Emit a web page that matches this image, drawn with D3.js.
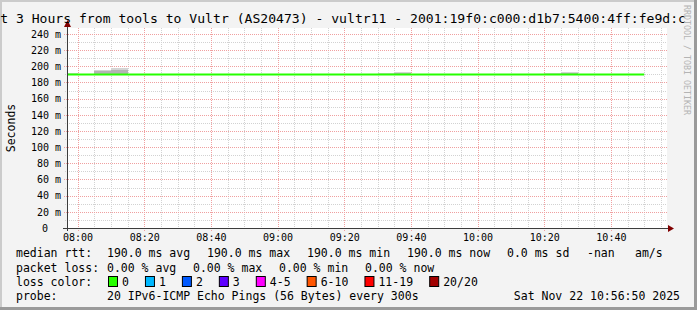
<!DOCTYPE html>
<html>
<head>
<meta charset="utf-8">
<script src="https://cdn.jsdelivr.net/npm/d3@7"></script>
<style>
  body { margin: 0; background: #f3f3f3; }
  svg { display: block; font-family: "DejaVu Sans Mono", monospace; }
</style>
</head>
<body>
<script>
// 5 minute bins, labelled by the end of the bin (rrdtool style)
const binEnds = ["08:00","08:05","08:10","08:15","08:20","08:25","08:30","08:35","08:40","08:45","08:50","08:55",
                 "09:00","09:05","09:10","09:15","09:20","09:25","09:30","09:35","09:40","09:45","09:50","09:55",
                 "10:00","10:05","10:10","10:15","10:20","10:25","10:30","10:35","10:40","10:45","10:50"];
const medianRtt = [190.0,190.0,190.0,190.0,190.0,190.0,190.0,190.0,190.0,190.0,190.0,190.0,
                   190.0,190.0,190.0,190.0,190.0,190.0,190.0,190.0,190.0,190.0,190.0,190.0,
                   190.0,190.0,190.0,190.0,190.0,190.0,190.0,190.0,190.0,190.0,190.0];
const maxRtt =    [192.1,190.6,195.5,197.6,190.6,190.6,190.5,190.6,190.6,190.5,190.6,190.6,
                   190.6,190.5,190.6,190.6,190.6,190.5,190.6,191.6,193.0,190.6,190.6,190.5,
                   190.6,190.6,190.5,190.6,190.6,191.7,193.2,190.6,190.5,190.6,190.6];
const upperRtt =  [190.8,190.3,193.9,195.9,190.3,190.3,190.3,190.3,190.3,190.3,190.3,190.3,
                   190.3,190.3,190.3,190.3,190.3,190.3,190.3,190.8,191.4,190.3,190.3,190.3,
                   190.3,190.3,190.3,190.3,190.3,190.8,191.4,190.3,190.3,190.3,190.3];
const minRtt =    [189.6,189.6,189.6,189.6,189.6,189.6,189.6,189.6,189.6,189.6,189.6,189.6,
                   189.6,189.6,189.6,189.6,189.6,189.6,189.6,189.6,189.6,189.6,189.6,189.6,
                   189.6,189.6,189.6,189.6,189.6,189.6,189.6,189.6,189.6,189.6,189.6];

const yTicks = [0,20,40,60,80,100,120,140,160,180,200,220,240];
const xTickLabels = ["08:00","08:20","08:40","09:00","09:20","09:40","10:00","10:20","10:40"];

const lossLabels = ["0","1","2","3","4-5","6-10","11-19","20/20"];
const lossColors = ["#26ff00","#00b8ff","#0059ff","#5e00ff","#ff00ff","#ff5500","#ff0000","#a10000"];

const title = "Last 3 Hours from tools to Vultr (AS20473) - vultr11 - 2001:19f0:c000:d1b7:5400:4ff:fe9d:c";
const rowRtt = [["median rtt:",16],["190.0 ms avg",107],["190.0 ms max",207],["190.0 ms min",307],
                ["190.0 ms now",407],["0.0 ms sd",507],["-nan",587],["am/s",635]];
const rowLoss = [["packet loss:",16],["0.00 % avg",107],["0.00 % max",193],["0.00 % min",279],["0.00 % now",365]];
const probeText = "20 IPv6-ICMP Echo Pings (56 Bytes) every 300s";
const stampText = "Sat Nov 22 10:56:50 2025";

const W = 697, H = 310;
const plot = { left: 67, right: 667, top: 28, bottom: 228 };

const parseT = d3.utcParse("%Y-%m-%d %H:%M:%S");
const t = s => parseT("2025-11-22 " + (s.length === 5 ? s + ":00" : s));
const tStart = t("07:56:50"), tEnd = t("10:56:50");

const x = d3.scaleUtc().domain([tStart, tEnd]).range([plot.left, plot.right]);
const y = d3.scaleLinear().domain([0, 247.4]).range([plot.bottom, plot.top]);

const svg = d3.select("body").append("svg").attr("width", W).attr("height", H);

// frame / shading
svg.append("rect").attr("width", W).attr("height", H).attr("fill", "#f3f3f3");
svg.append("rect").attr("x", 0).attr("y", 0).attr("width", W).attr("height", 2).attr("fill", "#cbcbcb");
svg.append("rect").attr("x", 0).attr("y", 0).attr("width", 2).attr("height", H).attr("fill", "#cbcbcb");
svg.append("rect").attr("x", W - 3).attr("y", 0).attr("width", 3).attr("height", H).attr("fill", "#9a9a9a");
svg.append("rect").attr("x", 0).attr("y", H - 3).attr("width", W).attr("height", 3).attr("fill", "#9a9a9a");

// canvas
svg.append("rect")
  .attr("x", plot.left).attr("y", plot.top)
  .attr("width", plot.right - plot.left).attr("height", plot.bottom - plot.top)
  .attr("fill", "#ffffff");

svg.append("clipPath").attr("id", "clip").append("rect")
  .attr("x", plot.left).attr("y", plot.top)
  .attr("width", plot.right - plot.left).attr("height", plot.bottom - plot.top);

// grid
const grid = svg.append("g").attr("shape-rendering", "crispEdges");
const minorT = d3.utcMinute.every(5).range(tStart, tEnd).filter(d => d.getUTCMinutes() % 20 !== 0);
const majorT = d3.utcMinute.every(20).range(tStart, tEnd);
const minorY = d3.range(10, 247, 20);

grid.selectAll(".vmin").data(minorT).join("line")
  .attr("x1", d => Math.round(x(d)) + 0.5).attr("x2", d => Math.round(x(d)) + 0.5)
  .attr("y1", plot.top).attr("y2", plot.bottom + 2)
  .attr("stroke", "#d2d2d2").attr("stroke-dasharray", "1,1");
grid.selectAll(".hmin").data(minorY).join("line")
  .attr("x1", plot.left - 2).attr("x2", plot.right)
  .attr("y1", d => Math.round(y(d)) + 0.5).attr("y2", d => Math.round(y(d)) + 0.5)
  .attr("stroke", "#d2d2d2").attr("stroke-dasharray", "1,1");
grid.selectAll(".vmaj").data(majorT).join("line")
  .attr("x1", d => Math.round(x(d)) + 0.5).attr("x2", d => Math.round(x(d)) + 0.5)
  .attr("y1", plot.top).attr("y2", plot.bottom + 3)
  .attr("stroke", "#f0a0a0").attr("stroke-dasharray", "1,1");
grid.selectAll(".hmaj").data(yTicks.filter(v => v > 0)).join("line")
  .attr("x1", plot.left - 3).attr("x2", plot.right)
  .attr("y1", d => Math.round(y(d)) + 0.5).attr("y2", d => Math.round(y(d)) + 0.5)
  .attr("stroke", "#f0a0a0").attr("stroke-dasharray", "1,1");

// smoke
const bins = binEnds.map((e, i) => ({
  t0: d3.utcMinute.offset(t(e), -5), t1: t(e),
  med: medianRtt[i], max: maxRtt[i], up: upperRtt[i], min: minRtt[i]
}));

const smoke = svg.append("g").attr("clip-path", "url(#clip)").attr("shape-rendering", "crispEdges");
smoke.selectAll(".outer").data(bins).join("rect")
  .attr("x", d => x(d.t0)).attr("width", d => x(d.t1) - x(d.t0))
  .attr("y", d => y(d.max)).attr("height", d => y(d.min) - y(d.max))
  .attr("fill", "#d4d4d4");
smoke.selectAll(".inner").data(bins).join("rect")
  .attr("x", d => x(d.t0)).attr("width", d => x(d.t1) - x(d.t0))
  .attr("y", d => y(d.up)).attr("height", d => y(d.min) - y(d.up))
  .attr("fill", "#b4b4b4");

// median line (step)
const stepPts = bins.flatMap(d => [[d.t0, d.med], [d.t1, d.med]]);
svg.append("path")
  .attr("clip-path", "url(#clip)")
  .attr("d", d3.line().x(d => x(d[0])).y(d => y(d[1]))(stepPts))
  .attr("fill", "none").attr("stroke", lossColors[0]).attr("stroke-width", 2);

// axes
const yAxis = svg.append("g").attr("transform", `translate(${plot.left},0)`)
  .call(d3.axisLeft(y).tickValues(yTicks).tickSize(0).tickPadding(6)
    .tickFormat(d => d === 0 ? "0" : d + " m"));
yAxis.select(".domain").remove();
yAxis.selectAll("text").attr("font-family", "DejaVu Sans Mono").attr("font-size", "10px").attr("fill", "#000")
  .attr("dx", d => d === 0 ? -13 : 0);

const xAxis = svg.append("g").attr("transform", `translate(0,${plot.bottom})`)
  .call(d3.axisBottom(x).tickValues(xTickLabels.map(t)).tickSize(0).tickPadding(5.5)
    .tickFormat(d3.utcFormat("%H:%M")));
xAxis.select(".domain").remove();
xAxis.selectAll("text").attr("font-family", "DejaVu Sans Mono").attr("font-size", "10px").attr("fill", "#000");

svg.append("line").attr("x1", plot.left + 0.5).attr("x2", plot.left + 0.5)
  .attr("y1", plot.bottom + 3).attr("y2", plot.top - 6).attr("stroke", "#3c3c3c");
svg.append("line").attr("x1", plot.left - 4).attr("x2", plot.right + 2)
  .attr("y1", plot.bottom + 0.5).attr("y2", plot.bottom + 0.5).attr("stroke", "#3c3c3c");
svg.append("path").attr("d", `M${plot.left - 3},${plot.top - 1}L${plot.left + 4},${plot.top - 1}L${plot.left + 0.5},${plot.top - 8}Z`)
  .attr("fill", "#800000");
svg.append("path").attr("d", `M${plot.right + 1},${plot.bottom - 3}L${plot.right + 1},${plot.bottom + 4}L${plot.right + 7},${plot.bottom + 0.5}Z`)
  .attr("fill", "#800000");

// title, axis title, watermark
svg.append("text").attr("x", -23.5).attr("y", 23).attr("font-size", "13.1px").attr("fill", "#000")
  .text(title);
svg.append("text").attr("transform", `translate(15,${(plot.top + plot.bottom) / 2}) rotate(-90)`)
  .attr("text-anchor", "middle").attr("font-size", "11.5px").attr("fill", "#000").text("Seconds");
svg.append("text").attr("transform", "translate(683.5,5) rotate(90)")
  .attr("font-size", "8.3px").attr("fill", "#b4b4b4").text("RRDTOOL / TOBI OETIKER");

// legend
const lg = svg.append("g").attr("font-size", "11.5px").attr("fill", "#000").style("white-space", "pre");
lg.selectAll(".r1").data(rowRtt).join("text").attr("x", d => d[1]).attr("y", 257).text(d => d[0]);
lg.selectAll(".r2").data(rowLoss).join("text").attr("x", d => d[1]).attr("y", 271.5).text(d => d[0]);
lg.append("text").attr("x", 16).attr("y", 286).text("loss color:");
lg.append("text").attr("x", 16).attr("y", 300.3).text("probe:");
lg.append("text").attr("x", 107).attr("y", 300.3).text(probeText);
lg.append("text").attr("x", 680).attr("y", 300.3).attr("text-anchor", "end").text(stampText);

const cw = 6.95;
let bx = 108;
lossLabels.forEach((lab, i) => {
  lg.append("rect").attr("x", bx + 0.5).attr("y", 276.5).attr("width", 9).attr("height", 10)
    .attr("fill", lossColors[i]).attr("stroke", "#000");
  lg.append("text").attr("x", bx + 14).attr("y", 286).text(lab);
  bx += 14 + lab.length * cw + 16;
});
</script>
</body>
</html>
